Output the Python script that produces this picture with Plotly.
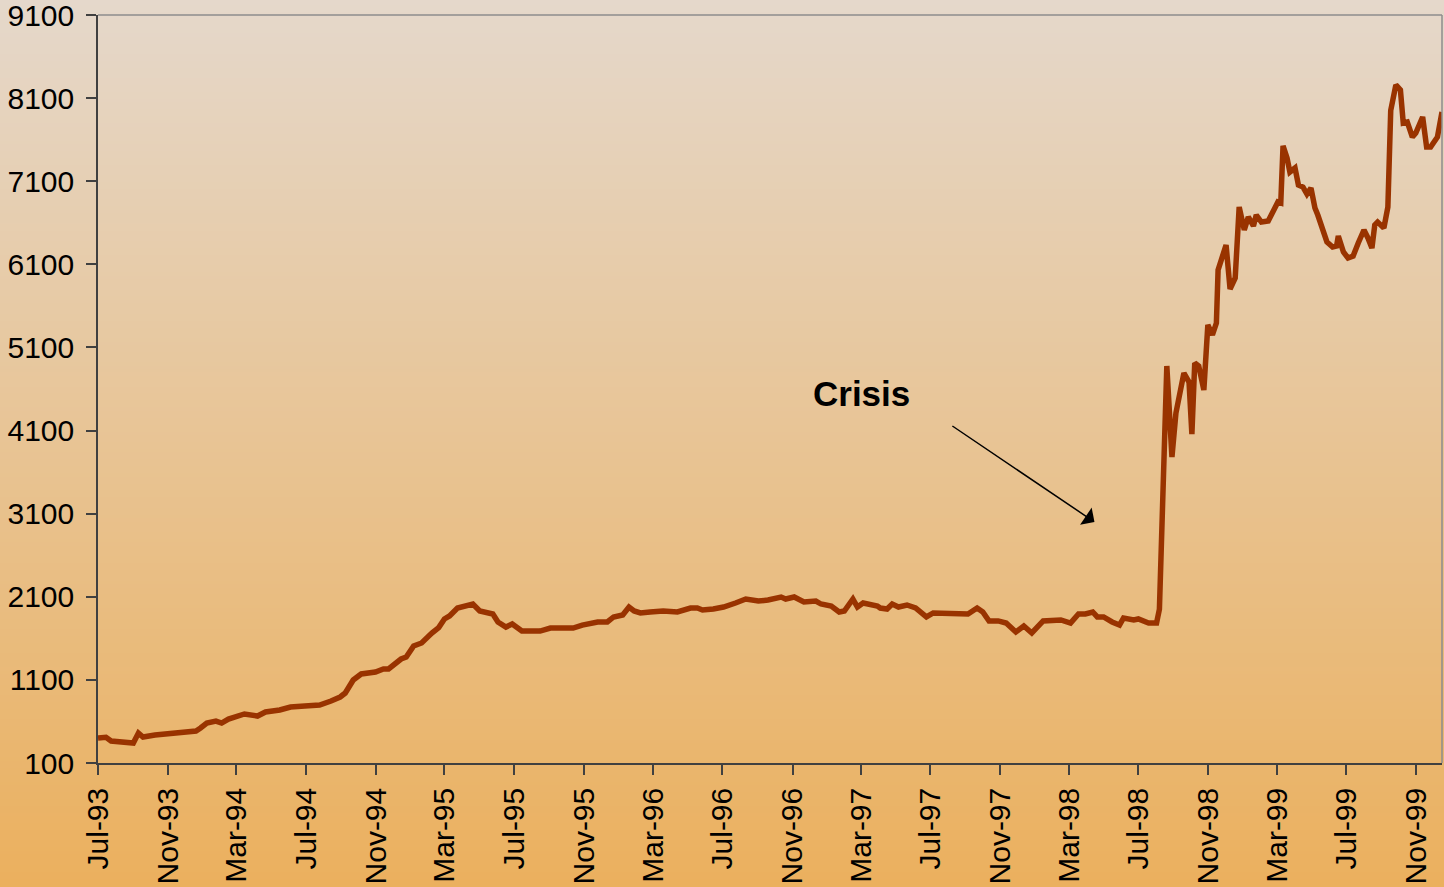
import base64
import struct
import zlib

import plotly.graph_objects as go

# ---------------- data ----------------
dates = [
    "1993-07-01", "1993-07-15", "1993-07-24", "1993-08-23", "1993-09-01", "1993-09-10",
    "1993-09-18", "1993-10-09", "1993-11-02", "1993-11-24", "1993-12-20", "1993-12-28",
    "1994-01-08", "1994-01-24", "1994-02-03", "1994-02-15", "1994-03-15", "1994-04-07",
    "1994-04-21", "1994-05-16", "1994-06-04", "1994-06-29", "1994-07-25", "1994-08-14",
    "1994-08-30", "1994-09-08", "1994-09-22", "1994-10-06", "1994-10-31", "1994-11-14",
    "1994-11-23", "1994-12-15", "1994-12-24", "1995-01-06", "1995-01-20", "1995-02-07",
    "1995-02-19", "1995-03-01", "1995-03-10", "1995-03-24", "1995-04-02", "1995-04-20",
    "1995-05-02", "1995-05-14", "1995-05-25", "1995-06-03", "1995-06-17", "1995-06-28",
    "1995-07-15", "1995-08-16", "1995-09-03", "1995-09-26", "1995-10-13", "1995-10-29",
    "1995-11-18", "1995-11-25", "1995-12-12", "1995-12-23", "1996-01-08", "1996-01-19",
    "1996-01-28", "1996-02-08", "1996-02-25", "1996-03-19", "1996-04-13", "1996-05-06",
    "1996-05-18", "1996-05-27", "1996-06-15", "1996-07-03", "1996-07-24", "1996-08-11",
    "1996-09-02", "1996-09-19", "1996-10-12", "1996-10-20", "1996-11-04", "1996-11-21",
    "1996-12-12", "1996-12-21", "1997-01-08", "1997-01-22", "1997-01-31", "1997-02-15",
    "1997-02-23", "1997-03-05", "1997-03-30", "1997-04-04", "1997-04-16", "1997-04-25",
    "1997-05-06", "1997-05-21", "1997-06-05", "1997-06-17", "1997-06-24", "1997-07-06",
    "1997-07-24", "1997-08-18", "1997-09-05", "1997-09-21", "1997-10-01", "1997-10-12",
    "1997-10-28", "1997-11-11", "1997-11-28", "1997-12-12", "1997-12-26", "1998-01-15",
    "1998-02-03", "1998-02-15", "1998-03-04", "1998-03-18", "1998-03-30", "1998-04-12",
    "1998-04-20", "1998-05-01", "1998-05-16", "1998-05-29", "1998-06-05", "1998-06-23",
    "1998-07-01", "1998-07-19", "1998-08-02", "1998-08-07", "1998-08-20", "1998-08-29",
    "1998-09-05", "1998-09-19", "1998-09-28", "1998-10-03", "1998-10-08", "1998-10-15",
    "1998-10-24", "1998-10-31", "1998-11-08", "1998-11-15", "1998-11-18", "1998-12-02",
    "1998-12-09", "1998-12-18", "1998-12-25", "1999-01-03", "1999-01-10", "1999-01-19",
    "1999-01-24", "1999-02-02", "1999-02-14", "1999-02-25", "1999-03-03", "1999-03-08",
    "1999-03-12", "1999-03-19", "1999-03-24", "1999-04-02", "1999-04-08", "1999-04-16",
    "1999-04-23", "1999-04-30", "1999-05-07", "1999-05-12", "1999-05-28", "1999-06-07",
    "1999-06-14", "1999-06-17", "1999-06-26", "1999-07-04", "1999-07-13", "1999-07-22",
    "1999-08-01", "1999-08-08", "1999-08-15", "1999-08-20", "1999-08-25", "1999-09-05",
    "1999-09-12", "1999-09-17", "1999-09-26", "1999-10-04", "1999-10-09", "1999-10-16",
    "1999-10-25", "1999-10-31", "1999-11-12", "1999-11-19", "1999-11-26", "1999-12-08",
    "1999-12-16",
]

values = [
    401, 410, 365, 353, 340, 460,
    413, 437, 449, 473, 485, 521,
    581, 605, 581, 629, 690, 665,
    714, 738, 774, 786, 798, 846,
    894, 942, 1099, 1171, 1195, 1231,
    1231, 1351, 1375, 1508, 1544, 1664,
    1730, 1833, 1869, 1965, 1977, 2013,
    1929, 1917, 1893, 1797, 1736, 1772,
    1688, 1688, 1724, 1724, 1724, 1760,
    1784, 1797, 1797, 1857, 1881, 1977,
    1929, 1905, 1917, 1929, 1917, 1965,
    1965, 1941, 1953, 1977, 2025, 2073,
    2049, 2061, 2097, 2073, 2097, 2037,
    2049, 2013, 1989, 1917, 1929, 2073,
    1977, 2025, 1989, 1965, 1953, 2013,
    1977, 2001, 1965, 1905, 1857, 1905,
    1905, 1893, 1893, 1965, 1917, 1809,
    1809, 1784, 1676, 1748, 1664, 1809,
    1809, 1821, 1784, 1893, 1893, 1917,
    1857, 1857, 1797, 1760, 1845, 1821,
    1833, 1784, 1784, 1950, 4877, 3782,
    4311, 4792, 4684, 4058, 4913, 4877,
    4588, 5370, 5250, 5394, 6032, 6332,
    5803, 5936, 6790, 6513, 6670, 6561,
    6693, 6609, 6621, 6790, 6850, 6838,
    7524, 7379, 7211, 7259, 7055, 7030,
    6946, 7018, 6778, 6693, 6369, 6308,
    6320, 6440, 6248, 6176, 6200, 6357,
    6513, 6417, 6296, 6573, 6609, 6537,
    6790, 7950, 8258, 8198, 7801, 7813,
    7632, 7680, 7873, 7511, 7511, 7632,
    7933,
]

x_range = ["1993-07-01", "1999-12-16"]
y_range = [100, 9100]

annotation_text = "Crisis"

# ---------------- styling ----------------
W, H = 1444, 887
ML, MR, MT, MB = 98, 2, 15, 124
PW, PH = W - ML - MR, H - MT - MB

TOP_RGB = (229, 216, 203)
BOT_RGB = (235, 176, 94)
LINE_COLOR = "#993300"
FONT = "Liberation Sans, Arial, sans-serif"


def gradient_png(top, bottom, n=256, w=4):
    raw = b""
    for i in range(n):
        t = i / (n - 1)
        px = bytes(int(round(top[k] + (bottom[k] - top[k]) * t)) for k in range(3))
        raw += b"\x00" + px * w

    def chunk(tag, data):
        c = struct.pack(">I", len(data)) + tag + data
        return c + struct.pack(">I", zlib.crc32(tag + data) & 0xFFFFFFFF)

    png = b"\x89PNG\r\n\x1a\n"
    png += chunk(b"IHDR", struct.pack(">IIBBBBB", w, n, 8, 2, 0, 0, 0))
    png += chunk(b"IDAT", zlib.compress(raw, 9))
    png += chunk(b"IEND", b"")
    return "data:image/png;base64," + base64.b64encode(png).decode()


fig = go.Figure()
fig.add_trace(
    go.Scatter(
        x=dates,
        y=values,
        mode="lines",
        line=dict(color=LINE_COLOR, width=5.5),
        hoverinfo="x+y",
        showlegend=False,
    )
)

fig.add_layout_image(
    dict(
        source=gradient_png(TOP_RGB, BOT_RGB),
        xref="paper",
        yref="paper",
        x=-ML / PW,
        y=1 + MT / PH,
        sizex=W / PW,
        sizey=H / PH,
        sizing="stretch",
        xanchor="left",
        yanchor="top",
        layer="below",
    )
)

axis_common = dict(
    showgrid=False,
    zeroline=False,
    showline=True,
    linecolor="#404040",
    linewidth=1.5,
    ticks="outside",
    ticklen=10,
    tickwidth=1.5,
    tickcolor="#404040",
    ticklabeloverflow="allow",
    automargin=False,
    tickfont=dict(family=FONT, size=30, color="black"),
)

fig.update_xaxes(
    type="date",
    range=x_range,
    tick0="1993-07-01",
    dtick="M4",
    tickformat="%b-%y",
    tickangle=-90,
    ticklabelstandoff=1,
    **axis_common,
)
fig.update_yaxes(
    range=y_range,
    tick0=100,
    dtick=1000,
    ticklabelstandoff=6,
    **axis_common,
)

# top and right frame lines (lighter gray)
fig.add_shape(type="line", xref="paper", yref="paper", x0=0, x1=1, y0=1, y1=1,
              line=dict(color="#8c8c8c", width=1.5))
fig.add_shape(type="line", xref="paper", yref="paper", x0=1, x1=1, y0=0, y1=1,
              line=dict(color="#8c8c8c", width=1.5))

# Crisis label and arrow
fig.add_annotation(
    x="1997-03-02", y=4545, xref="x", yref="y",
    text="<b>" + annotation_text + "</b>",
    showarrow=False,
    font=dict(family=FONT, size=35, color="black"),
    xanchor="center", yanchor="middle",
)
fig.add_annotation(
    x="1998-04-15", y=3000, xref="x", yref="y",
    ax="1997-08-06", ay=4167, axref="x", ayref="y",
    text="",
    showarrow=True,
    arrowhead=1,
    arrowsize=2.3,
    arrowwidth=1.5,
    arrowcolor="black",
    standoff=0,
)

fig.update_layout(
    width=W,
    height=H,
    margin=dict(l=ML, r=MR, t=MT, b=MB, pad=0, autoexpand=False),
    paper_bgcolor="rgb(235,176,94)",
    plot_bgcolor="rgba(0,0,0,0)",
    font=dict(family=FONT, color="black"),
    showlegend=False,
)

fig.write_html(
    "out.html",
    config={"displayModeBar": False},
    post_script="document.body.style.margin='0';",
)
